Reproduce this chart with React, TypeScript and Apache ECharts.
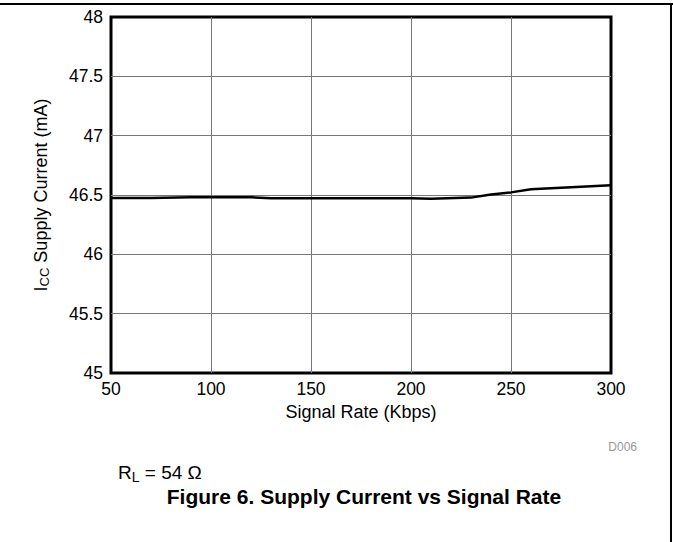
import React, { useEffect, useRef } from "react";
import * as echarts from "echarts";

const rates = [50, 70, 90, 120, 130, 200, 210, 230, 240, 250, 260, 280, 300];
const current = [46.475, 46.475, 46.48, 46.48, 46.472, 46.472, 46.468, 46.478, 46.505, 46.522, 46.548, 46.565, 46.582];
const xTicks = [50, 100, 150, 200, 250, 300];
const yTicks = [45, 45.5, 46, 46.5, 47, 47.5, 48];

const FONT = "Liberation Sans, Arial, sans-serif";

export default function App() {
  const ref = useRef<HTMLDivElement>(null);
  useEffect(() => {
    if (!ref.current) return;
    const chart = echarts.init(ref.current, null, { renderer: "svg" });
    chart.setOption({
      animation: false,
      backgroundColor: "#fff",
      textStyle: { fontFamily: FONT },
      grid: {
        left: 111,
        right: 62,
        top: 17,
        bottom: 169,
        show: true,
        borderColor: "#000",
        borderWidth: 3,
        backgroundColor: "transparent",
      },
      xAxis: {
        type: "value",
        min: xTicks[0],
        max: xTicks[xTicks.length - 1],
        interval: 50,
        axisLine: { show: false },
        axisTick: { show: false },
        axisLabel: { color: "#000", fontSize: 17.5, fontFamily: FONT, margin: 7 },
        splitLine: { show: true, showMinLine: false, showMaxLine: false, lineStyle: { color: "#777", width: 1 } },
        name: "Signal Rate (Kbps)",
        nameLocation: "middle",
        nameGap: 30,
        nameTextStyle: { color: "#000", fontSize: 18, fontFamily: FONT },
      },
      yAxis: {
        type: "value",
        min: yTicks[0],
        max: yTicks[yTicks.length - 1],
        interval: 0.5,
        axisLine: { show: false },
        axisTick: { show: false },
        axisLabel: { color: "#000", fontSize: 17.5, fontFamily: FONT, margin: 8 },
        splitLine: { show: true, showMinLine: false, showMaxLine: false, lineStyle: { color: "#777", width: 1 } },
        name: "I{sub|CC} Supply Current (mA)",
        nameLocation: "middle",
        nameRotate: 90,
        nameGap: 60,
        nameTextStyle: {
          color: "#000",
          fontSize: 18,
          fontFamily: FONT,
          rich: {
            sub: { fontSize: 13, color: "#000", fontFamily: FONT, verticalAlign: "bottom", padding: [7, 0, 0, 0] },
          },
        },
      },
      series: [
        {
          type: "line",
          data: rates.map((r, i) => [r, current[i]]),
          showSymbol: false,
          symbol: "none",
          lineStyle: { color: "#000", width: 2.5 },
          z: 5,
        },
      ],
      graphic: [
        { type: "line", shape: { x1: 0, y1: 4, x2: 673, y2: 4 }, style: { stroke: "#000", lineWidth: 2 } },
        { type: "line", shape: { x1: 671, y1: 4, x2: 671, y2: 542 }, style: { stroke: "#000", lineWidth: 2 } },
        {
          type: "text",
          x: 637,
          y: 447,
          style: { text: "D006", fill: "#999", font: `12px ${FONT}`, align: "right", verticalAlign: "middle" },
        },
        {
          type: "text",
          x: 118,
          y: 472,
          style: {
            text: "R{sub|L} = 54 Ω",
            fill: "#000",
            font: `19px ${FONT}`,
            verticalAlign: "middle",
            rich: {
              sub: { fontSize: 14, fill: "#000", fontFamily: FONT, verticalAlign: "bottom", padding: [9, 0, 0, 0] },
            },
          },
        },
        {
          type: "text",
          x: 364,
          y: 496,
          style: {
            text: "Figure 6. Supply Current vs Signal Rate",
            fill: "#000",
            font: `bold 21px ${FONT}`,
            align: "center",
            verticalAlign: "middle",
          },
        },
      ],
    });
    return () => chart.dispose();
  }, []);
  return <div ref={ref} style={{ width: 673, height: 542, position: "absolute", left: 0, top: 0 }} />;
}
